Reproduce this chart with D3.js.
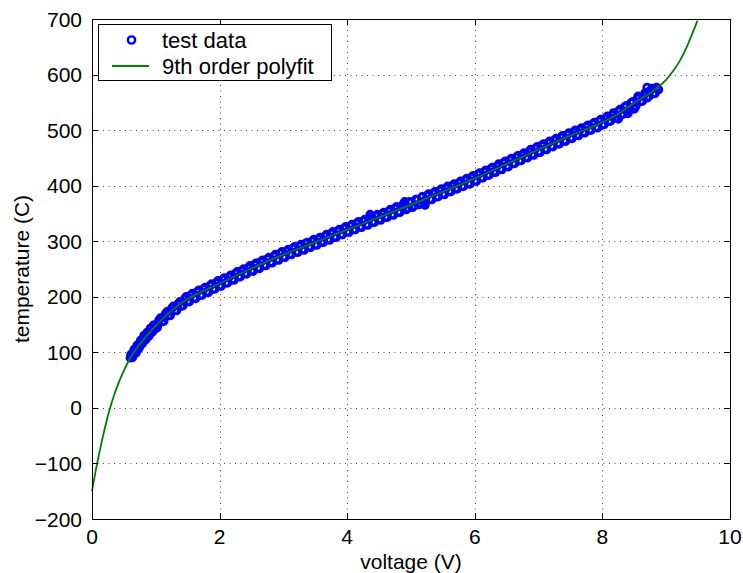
<!DOCTYPE html>
<html>
<head>
<meta charset="utf-8">
<script src="https://cdn.jsdelivr.net/npm/d3@7"></script>
<style>
  body { margin: 0; background: #fff; }
  svg text { font-family: "Liberation Sans", Arial, sans-serif; fill: #000; }
</style>
</head>
<body>
<div id="area"></div>
<script>
// test data (voltage in V, temperature in C)
const testVoltage = [
  0.60, 0.62, 0.65, 0.68, 0.70, 0.72, 0.75, 0.78, 0.80, 0.83, 0.85, 0.88, 0.90, 0.93, 0.95, 0.98,
  1.00, 1.05, 1.10, 1.15, 1.20, 1.25, 1.30, 1.35, 1.40, 1.45, 1.50, 1.55, 1.60, 1.65, 1.70, 1.75,
  1.80, 1.85, 1.90, 1.95, 2.00, 2.05, 2.10, 2.15, 2.20, 2.25, 2.30, 2.35, 2.40, 2.45, 2.50, 2.55,
  2.60, 2.65, 2.70, 2.75, 2.80, 2.85, 2.90, 2.95, 3.00, 3.05, 3.10, 3.15, 3.20, 3.25, 3.30, 3.35,
  3.40, 3.45, 3.50, 3.55, 3.60, 3.65, 3.70, 3.75, 3.80, 3.85, 3.90, 3.95, 4.00, 4.05, 4.10, 4.15,
  4.20, 4.25, 4.30, 4.35, 4.36, 4.40, 4.45, 4.50, 4.55, 4.60, 4.65, 4.70, 4.75, 4.80, 4.85, 4.90,
  4.90, 4.95, 5.00, 5.05, 5.10, 5.15, 5.20, 5.22, 5.25, 5.30, 5.35, 5.40, 5.45, 5.50, 5.55, 5.60,
  5.65, 5.70, 5.75, 5.80, 5.85, 5.90, 5.95, 6.00, 6.05, 6.10, 6.15, 6.20, 6.25, 6.30, 6.35, 6.40,
  6.45, 6.50, 6.55, 6.60, 6.65, 6.70, 6.75, 6.80, 6.85, 6.90, 6.95, 7.00, 7.05, 7.10, 7.15, 7.20,
  7.25, 7.30, 7.35, 7.40, 7.45, 7.50, 7.55, 7.60, 7.65, 7.70, 7.75, 7.80, 7.85, 7.90, 7.95, 8.00,
  8.05, 8.10, 8.15, 8.20, 8.25, 8.25, 8.30, 8.35, 8.40, 8.40, 8.45, 8.50, 8.50, 8.55, 8.56, 8.60,
  8.65, 8.70, 8.70, 8.75, 8.80, 8.85, 8.88,
  0.61, 0.635, 0.66, 0.69, 0.71, 0.735, 0.76, 0.79, 0.815, 0.84, 0.865, 0.89, 0.915, 0.94, 0.965, 0.99,
  1.025, 1.075, 1.125, 1.175, 1.225, 1.275, 1.325, 1.375, 1.425, 1.475, 1.525, 1.575, 1.625, 1.675,
  1.725, 1.775, 1.825, 1.875, 1.925, 1.975, 2.025, 2.075, 2.125, 2.175, 2.225, 2.275, 2.325, 2.375,
  2.425, 2.475, 2.525, 2.575, 2.625, 2.675, 2.725, 2.775, 2.825, 2.875, 2.925, 2.975, 3.025, 3.075,
  3.125, 3.175, 3.225, 3.275, 3.325, 3.375, 3.425, 3.475, 3.525, 3.575, 3.625, 3.675, 3.725, 3.775,
  3.825, 3.875, 3.925, 3.975, 4.025, 4.075, 4.125, 4.175, 4.225, 4.275, 4.325, 4.375, 4.425, 4.475,
  4.525, 4.575, 4.625, 4.675, 4.725, 4.775, 4.825, 4.875, 4.925, 4.975, 5.025, 5.075, 5.125, 5.175,
  5.225, 5.275, 5.325, 5.375, 5.425, 5.475, 5.525, 5.575, 5.625, 5.675, 5.725, 5.775, 5.825, 5.875,
  5.925, 5.975, 6.025, 6.075, 6.125, 6.175, 6.225, 6.275, 6.325, 6.375, 6.425, 6.475, 6.525, 6.575,
  6.625, 6.675, 6.725, 6.775, 6.825, 6.875, 6.925, 6.975, 7.025, 7.075, 7.125, 7.175, 7.225, 7.275,
  7.325, 7.375, 7.425, 7.475, 7.525, 7.575, 7.625, 7.675, 7.725, 7.775, 7.825, 7.875, 7.925, 7.975,
  8.025, 8.075, 8.125, 8.175, 8.225, 8.275, 8.325, 8.375, 8.425, 8.475, 8.525, 8.575, 8.625, 8.675,
  8.725, 8.775, 8.825
];
const testTemp = [
  90, 95, 96, 106, 103, 113, 111, 123, 119, 130, 125, 136, 132, 143, 138, 149,
  145, 158, 155, 169, 166, 179, 175, 187, 183, 196, 192, 203, 198, 209, 203, 214,
  209, 220, 214, 225, 220, 231, 225, 236, 231, 242, 236, 247, 242, 252, 247, 258,
  252, 263, 257, 268, 262, 273, 267, 278, 272, 282, 277, 287, 281, 291, 285, 296,
  290, 300, 294, 304, 299, 309, 303, 314, 308, 318, 312, 323, 317, 327, 321, 332,
  326, 336, 330, 341, 348, 335, 345, 339, 349, 344, 354, 348, 359, 353, 363, 366,
  371, 360, 370, 364, 375, 369, 371, 365, 382, 376, 386, 380, 391, 385, 395, 390,
  400, 395, 405, 399, 410, 404, 415, 409, 420, 414, 425, 419, 430, 425, 435, 430,
  441, 435, 446, 440, 451, 445, 456, 451, 461, 456, 467, 461, 472, 466, 477, 471,
  482, 476, 487, 481, 492, 486, 496, 491, 501, 496, 506, 500, 511, 505, 516, 510,
  521, 516, 527, 522, 534, 520, 528, 542, 535, 530, 549, 542, 538, 557, 561, 552,
  563, 558, 577, 571, 566, 577, 573,
  96, 91, 105, 99, 113, 107, 121, 116, 130, 123, 136, 129, 143, 136, 149, 142,
  145, 162, 156, 173, 166, 183, 175, 191, 184, 200, 191, 206, 197, 212,
  203, 217, 208, 223, 214, 229, 219, 234, 225, 239, 230, 245, 236, 250,
  241, 256, 246, 261, 251, 266, 256, 271, 261, 276, 266, 281, 271, 285,
  276, 290, 280, 294, 284, 298, 289, 303, 293, 307, 298, 312, 302, 317,
  307, 321, 312, 326, 316, 330, 321, 335, 325, 339, 329, 344, 334, 348,
  338, 352, 343, 357, 347, 362, 352, 366, 357, 371, 361, 375, 366, 380,
  370, 385, 375, 389, 380, 394, 384, 399, 389, 403, 394, 408, 399, 413,
  403, 418, 408, 423, 414, 428, 419, 433, 424, 439, 429, 444, 434, 449,
  440, 454, 445, 459, 450, 465, 455, 470, 460, 475, 465, 480, 470, 485,
  475, 490, 480, 495, 485, 500, 490, 504, 495, 509, 500, 514, 504, 519,
  510, 525, 516, 531, 522, 537, 529, 544, 536, 551, 543, 560, 552, 568,
  560, 575, 566
];

// 9th order polyfit, sampled off the plotted curve
const fitVoltage = [0, 0.05, 0.1, 0.15, 0.2, 0.25, 0.3, 0.35, 0.4, 0.45, 0.5, 0.55, 0.6, 0.66, 0.73,
  0.8, 0.9, 1.0, 1.2, 1.5, 2.0, 2.5, 3.0, 3.5, 4.0, 4.5, 5.0, 5.5, 6.0, 6.5, 7.0, 7.5, 8.0, 8.3, 8.54,
  8.74, 8.88, 9.0, 9.1, 9.22, 9.35, 9.49];
const fitTemp = [-150, -118, -89, -62, -37, -14, 6, 24, 40, 54, 67, 79, 90, 101, 112,
  122, 135.5, 148, 170, 196, 224, 251, 276, 298, 321, 343, 366, 389, 413, 439, 465, 490, 514, 533, 552,
  566, 578, 591, 605, 626, 657, 697];

const xTicks = [0, 2, 4, 6, 8, 10];
const xTickLabels = ['0', '2', '4', '6', '8', '10'];
const yTicks = [-200, -100, 0, 100, 200, 300, 400, 500, 600, 700];
const yTickLabels = ['\u2212200', '\u2212100', '0', '100', '200', '300', '400', '500', '600', '700'];
const legendLabels = ['test data', '9th order polyfit'];

const width = 743, height = 573;
const plot = { left: 92, right: 730, top: 19, bottom: 519 };
const blue = '#0000ff', green = '#008000';
const tickLen = 6;
const markerR = 3.3, markerW = 2.8;

const svg = d3.select('#area').append('svg')
    .attr('width', width)
    .attr('height', height);
svg.append('rect').attr('width', width).attr('height', height).attr('fill', '#fff');

const x = d3.scaleLinear().domain([0, 10]).range([plot.left, plot.right]);
const y = d3.scaleLinear().domain([-200, 700]).range([plot.bottom, plot.top]);
const crisp = v => Math.round(v) + 0.5;

// dotted grid
const grid = svg.append('g')
    .attr('stroke', '#444')
    .attr('stroke-width', 1)
    .attr('stroke-dasharray', '1,4.5');
grid.selectAll('.gx').data(xTicks.slice(1, -1)).join('line')
    .attr('x1', d => crisp(x(d))).attr('x2', d => crisp(x(d)))
    .attr('y1', plot.top).attr('y2', plot.bottom);
grid.selectAll('.gy').data(yTicks.slice(1, -1)).join('line')
    .attr('y1', d => crisp(y(d))).attr('y2', d => crisp(y(d)))
    .attr('x1', plot.left).attr('x2', plot.right);

// test data
const points = testVoltage.map((v, i) => ({ v, t: testTemp[i] }));
svg.append('g').selectAll('circle').data(points).join('circle')
    .attr('cx', d => x(d.v))
    .attr('cy', d => y(d.t))
    .attr('r', markerR)
    .attr('fill', 'none')
    .attr('stroke', blue)
    .attr('stroke-width', markerW);

// polyfit curve
const fit = fitVoltage.map((v, i) => ({ v, t: fitTemp[i] }));
svg.append('path')
    .datum(fit)
    .attr('fill', 'none')
    .attr('stroke', green)
    .attr('stroke-width', 1.8)
    .attr('d', d3.line().x(d => x(d.v)).y(d => y(d.t)).curve(d3.curveNatural));

// box + inward ticks on all four sides
const axes = svg.append('g').attr('stroke', '#000').attr('stroke-width', 1);
axes.append('rect')
    .attr('x', crisp(plot.left)).attr('y', crisp(plot.top))
    .attr('width', plot.right - plot.left).attr('height', plot.bottom - plot.top)
    .attr('fill', 'none');
xTicks.forEach(d => {
    const px = crisp(x(d));
    axes.append('line').attr('x1', px).attr('x2', px).attr('y1', plot.bottom).attr('y2', plot.bottom - tickLen);
    axes.append('line').attr('x1', px).attr('x2', px).attr('y1', plot.top).attr('y2', plot.top + tickLen);
});
yTicks.forEach(d => {
    const py = crisp(y(d));
    axes.append('line').attr('y1', py).attr('y2', py).attr('x1', plot.left).attr('x2', plot.left + tickLen);
    axes.append('line').attr('y1', py).attr('y2', py).attr('x1', plot.right).attr('x2', plot.right - tickLen);
});

// tick labels
svg.append('g').selectAll('text').data(xTicks).join('text')
    .attr('x', d => x(d))
    .attr('y', plot.bottom + 25)
    .attr('text-anchor', 'middle')
    .attr('font-size', 21)
    .text((d, i) => xTickLabels[i]);
svg.append('g').selectAll('text').data(yTicks).join('text')
    .attr('x', plot.left - 10)
    .attr('y', d => y(d) + 7.5)
    .attr('text-anchor', 'end')
    .attr('font-size', 21)
    .text((d, i) => yTickLabels[i]);

// axis titles
svg.append('text')
    .attr('x', (plot.left + plot.right) / 2)
    .attr('y', 569)
    .attr('text-anchor', 'middle')
    .attr('font-size', 21)
    .text('voltage (V)');
svg.append('text')
    .attr('transform', `translate(29, ${(plot.top + plot.bottom) / 2}) rotate(-90)`)
    .attr('text-anchor', 'middle')
    .attr('font-size', 21)
    .text('temperature (C)');

// legend
const legend = svg.append('g');
legend.append('rect')
    .attr('x', 98.5).attr('y', 24.5).attr('width', 233).attr('height', 56)
    .attr('fill', '#fff').attr('stroke', '#000').attr('stroke-width', 1);
legend.append('circle')
    .attr('cx', 131.5).attr('cy', 40).attr('r', 3.6)
    .attr('fill', 'none').attr('stroke', blue).attr('stroke-width', 2.4);
legend.append('line')
    .attr('x1', 112).attr('x2', 149).attr('y1', 66).attr('y2', 66)
    .attr('stroke', green).attr('stroke-width', 1.8);
legend.selectAll('text').data(legendLabels).join('text')
    .attr('x', 162)
    .attr('y', (d, i) => 48 + i * 26)
    .attr('font-size', 22)
    .text(d => d);
</script>
</body>
</html>
